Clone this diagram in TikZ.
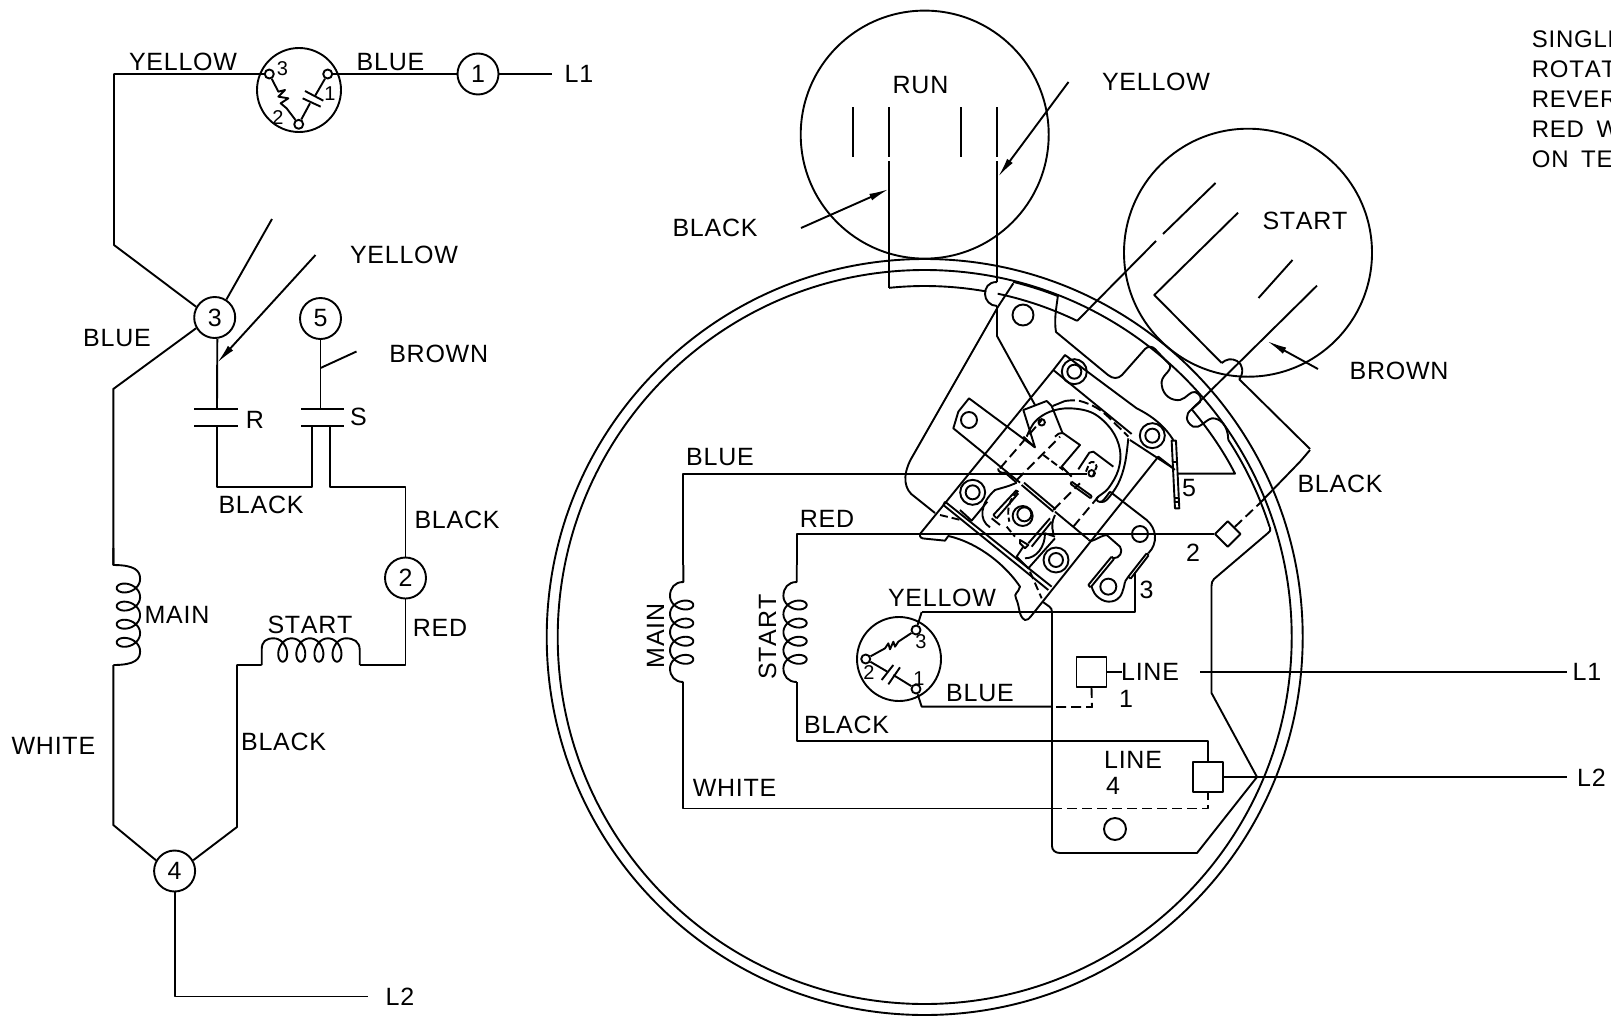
\documentclass[tikz,border=0pt]{standalone}
\usepackage{fontspec}
\setmainfont[LetterSpace=3,Kerning=Off,WordSpace=1.7]{Liberation Sans}
\usetikzlibrary{arrows.meta,shapes.geometric}
\tikzset{
  lbl/.style={font=\fontsize{25}{25}\selectfont,inner sep=0pt},
  notetext/.style={font=\fontsize{24}{24}\selectfont,inner sep=0pt,anchor=west},
  sml/.style={font=\fontsize{20}{20}\selectfont,inner sep=0pt},
  term/.style={circle,draw,minimum size=41pt,inner sep=0pt,font=\fontsize{25}{25}\selectfont},
  disc/.style={circle,draw,minimum size=84pt,inner sep=0pt},
  pin/.style={circle,draw,minimum size=9pt,inner sep=0pt},
  hole/.style={circle,draw,inner sep=0pt},
  boxn/.style={rectangle,draw,minimum size=30pt,inner sep=0pt},
  dsh/.style={dash pattern=on 10pt off 5pt},
  ptr/.style={-{Latex[length=20pt,width=7pt]}}
}
% vertical coil: wire x, tip x, signed height, first leaf y
\newcommand{\vcoil}[4]{%
  \draw (#1,#4-40) -- (#1,#4-23) .. controls (#2+#3*0.8,#4-23) and (#2+#3,#4-17) .. (#2+#3,#4-9)
    -- plot[variable=\t,domain=-180:1260,samples=120] ({#2+#3*(1-cos(\t))/2},{#4+0.0503*\t-8.5*sin(\t)})
    .. controls (#2+#3,#4+71) and (#2+#3*0.8,#4+77) .. (#1,#4+77);}
% horizontal coil: first leaf x, tip y
\newcommand{\hcoil}[2]{%
  \draw (#1-21,#2+3.3) -- (#1-21,#2-12) .. controls (#1-21,#2-20) and (#1-17,#2-23.4) .. (#1-9,#2-23.4)
    -- plot[variable=\t,domain=-180:1260,samples=120] ({#1+0.0503*\t-8.5*sin(\t)},{#2-23.4*(1-cos(\t))/2})
    .. controls (#1+71,#2-23.4) and (#1+77,#2-20) .. (#1+77,#2-12) -- (#1+77,#2+3.3);}
% arc about the motor centre, visual angles
\newcommand{\ringarc}[3]{\draw plot[variable=\t,domain=#2:#3,samples=80] ({924.7+#1*cos(\t)},{637-#1*sin(\t)});}
\begin{document}
\begin{tikzpicture}[x=1pt,y=-1pt,line width=1.9pt,line join=round]
\useasboundingbox (0,0) rectangle (1611,1015);
% ===== left schematic =====
\node[term] (n1) at (478,74) {1};
\node[term] (n2) at (405.5,578) {2};
\node[term] (n3) at (214.7,317.5) {3};
\node[term] (n4) at (174.6,871) {4};
\node[term] (n5) at (320.5,318.5) {5};
\node[disc] (tl) at (299,90) {};
\node[pin] (tl3) at (269.3,74) {};
\node[pin] (tl1) at (327.7,74) {};
\node[pin] (tl2) at (298.7,124.3) {};
\begin{scope}[shift={(220,30)},x=0.3333pt,y=-0.3333pt]
  \draw (tl3) -- (175,185) -- (195,180) -- (175,200) -- (205,205) -- (182,220) -- (200,235) -- (tl2);
  \draw (tl1) -- (285,198);
  \draw (255,183) -- (310,212);
  \draw (248,205) -- (302,230);
  \draw (270,220) -- (tl2);
\end{scope}
\node[sml] (tl3t) at (282.5,69) {3};
\node[sml] (tl1t) at (330,94) {1};
\node[sml] (tl2t) at (278,118) {2};
\draw (tl1) -- (n1);
\draw (n1) -- (552,74);
\draw (tl3) -- (114,74) -- (114,245) -- (n3.150);
\draw (n3.57) -- (272,219);
\coordinate (ya) at (315.5,255);
\coordinate (yb) at (217,363);
\draw[ptr] (ya) -- (yb);
\draw (n3.-83) -- (217,409);
\draw (194,409) -- (238,409);
\draw (194,426) -- (238,426);
\draw (217,426) -- (217,487) -- (312,487) -- (312,426);
\draw (n5) -- (320.5,409);
\draw (320.5,368) -- (356.5,351.5);
\draw (301,409) -- (344,409);
\draw (301,426) -- (344,426);
\draw (330,426) -- (330,487) -- (405.5,487) -- (n2);
\draw (n3.210) -- (113.3,389) -- (113.3,565);
\vcoil{113.3}{116.7}{23.4}{588}
\draw (113.3,665) -- (113.3,825) -- (n4.150);
\hcoil{282.7}{661.7}
\draw (261.7,665) -- (237,665) -- (237,827) -- (n4.30);
\draw (359.7,665) -- (405.5,665) -- (n2);
\draw (n4) -- (174.6,996.5) -- (368,996.5);
\node[lbl] (a1) at (183,62) {YELLOW};
\node[lbl] (a2) at (390.5,62) {BLUE};
\node[lbl] (a3) at (579,74) {L1};
\node[lbl] (a4) at (404,255) {YELLOW};
\node[lbl] (a5) at (117,338) {BLUE};
\node[lbl] (a6) at (438.7,353.5) {BROWN};
\node[lbl] (a7) at (255,420) {R};
\node[lbl] (a8) at (358.5,417) {S};
\node[lbl] (a9) at (261,504.5) {BLACK};
\node[lbl] (a10) at (457,520) {BLACK};
\node[lbl] (a11) at (177,615) {MAIN};
\node[lbl] (a12) at (310,625) {START};
\node[lbl] (a13) at (440,628) {RED};
\node[lbl] (a14) at (53.4,746) {WHITE};
\node[lbl] (a15) at (283.6,742) {BLACK};
\node[lbl] (a16) at (400,996.5) {L2};
% ===== note, clipped by the page =====
\node[notetext] (b1) at (1531,39) {SINGLE};
\node[notetext] (b2) at (1531,69) {ROTAT};
\node[notetext] (b3) at (1531,99.6) {REVER};
\node[notetext] (b4) at (1531,129.5) {RED W};
\node[notetext] (b5) at (1531,159) {ON TE};
% ===== motor end view =====
\draw (924.7,637) circle[radius=378];
\draw (924.7,637) circle[radius=367];
\draw (924.7,134.6) circle[radius=124];
\draw (1248,252.7) circle[radius=124];
% run leads
\draw (853,107) -- (853,157);
\draw (889,107) -- (889,157);
\draw (889,161) -- (889,288);
\draw (960.6,107) -- (960.6,157);
\draw (997,107) -- (997,157);
\draw (997,161) -- (997,282);
\ringarc{351}{95.84}{79.9}
\ringarc{351}{78}{64.3}
\coordinate (ra) at (1068.5,82);
\coordinate (rb) at (998,177);
\draw[ptr] (ra) -- (rb);
\coordinate (rc) at (801,228);
\coordinate (rd) at (889,189);
\draw[ptr] (rc) -- (rd);
% start leads
\draw (1077,321) -- (1156,241);
\draw (1163,234) -- (1215.5,183);
\draw (1238,212.7) -- (1154.3,295) -- (1221.7,363);
\draw (1221.7,363) .. controls (1226,359) and (1232,358) .. (1237,361) .. controls (1243,364) and (1244,373) .. (1239.3,379.3) -- (1310,449);
\draw (1258.5,298) -- (1292.5,260);
\draw (1317,285.6) -- (1191.7,409.3);
\coordinate (sa) at (1318,369);
\coordinate (sb) at (1267,341);
\draw[ptr] (sa) -- (sb);
% plate outline
\draw (997,282) .. controls (988,282) and (985,288) .. (985,294) .. controls (985,300) and (990,306) .. (997,306);
\draw (997,306) -- (997,336) -- (1035,405);
\draw (1013.3,283.3) -- (998,306.7) -- (911,459) .. controls (902,476) and (904,490) .. (915,497) -- (935,513);
\ringarc{366}{76}{68.7}
\draw (1058,295) .. controls (1056,310) and (1054,320) .. (1056,332) -- (1108,375) .. controls (1113,379) and (1118,379) .. (1122,375) -- (1145,349) .. controls (1148,346) and (1152,346) .. (1155,349) -- (1170,365)
  .. controls (1172,372) and (1160,375) .. (1161.7,385) .. controls (1163,396) and (1172,401) .. (1180,400) .. controls (1187,398) and (1190,391) .. (1195,392) .. controls (1200,394) and (1202,398) .. (1200,402) -- (1191.7,409.3)
  .. controls (1185,414) and (1185,422) .. (1193.3,426.7) .. controls (1200,429) and (1205,420) .. (1212,418.3) .. controls (1220,418) and (1228,425) .. (1228.3,440);
\ringarc{362}{33}{17.7}
\draw (1270,527) .. controls (1271,530) and (1270,532) .. (1268,533) -- (1214,579) .. controls (1212,581) and (1211.5,583) .. (1211.5,586) -- (1211.5,693) -- (1257,777) -- (1197,853) -- (1060,853) .. controls (1055,853) and (1052,850) .. (1052,846) -- (1052,612) .. controls (1052,607) and (1048,606) .. (1043,602);
\draw (1191.7,409.3) .. controls (1205,425) and (1222,448) .. (1235,473.6) -- (1178,473.6);
\draw (1086.5,473.6) -- (683.3,473.6) -- (683.3,565);
\vcoil{683.3}{693.3}{-23.3}{605}
\draw (683.3,682) -- (683.3,808.5) -- (1052,808.5);
\draw[dsh] (1052,808.5) -- (1208,808.5) -- (1208,792);
\node[boxn] (bx4) at (1208,777) {};
\draw (bx4.north) -- (1208,741) -- (796.7,741) -- (796.7,682);
\vcoil{796.7}{806.7}{-23.3}{605}
\node[rectangle,draw,rotate=45,minimum size=18pt,inner sep=0pt] (dia) at (1227.7,534) {};
\draw (796.7,565) -- (796.7,534) -- (dia.north west);
\draw[dsh] (dia.east) -- (1260,503);
\draw (1260,503) -- (1300,461.7) -- (1310,450);
\node[boxn] (bx1) at (1091.5,672) {};
\draw (bx1.east) -- (1122,672);
\coordinate (l1) at (1567,672);
\draw (1200,672) -- (l1);
\coordinate (l2) at (1567,777);
\draw (bx4.east) -- (l2);
\draw[dsh] (bx1.south) -- (1092,707) -- (1052,707);
\node[disc] (tr) at (899,659) {};
\node[pin] (tr3) at (916,630) {};
\node[pin] (tr2) at (865.7,659) {};
\node[pin] (tr1) at (916,689) {};
\begin{scope}[shift={(830,590)},x=0.3333pt,y=-0.3333pt]
  \draw (tr2) -- (165,175) -- (175,160) -- (180,178) -- (190,155) -- (195,170) -- (205,155) -- (tr3);
  \draw (tr2) -- (172,245);
  \draw (155,270) -- (190,225);
  \draw (175,283) -- (210,232);
  \draw (190,255) -- (tr1);
  \draw (tr1) -- (275,350) -- (665,350);
\end{scope}
\node[sml] (tr3t) at (921,642) {3};
\node[sml] (tr2t) at (869,673) {2};
\node[sml] (tr1t) at (919,679) {1};
% terminal block, in the units of a 3x crop
\begin{scope}[shift={(880,330)},x=0.3333pt,y=-0.3333pt]
  \node[hole,minimum size=16pt] (h1) at (267,270) {};
  \node[hole,minimum size=25pt] (t1) at (583,125) {};
  \node[hole,minimum size=14pt] (t1i) at (583,125) {};
  \node[hole,minimum size=25pt] (t2) at (817,317) {};
  \node[hole,minimum size=14pt] (t2i) at (817,317) {};
  \node[hole,minimum size=25pt] (t3) at (278,487) {};
  \node[hole,minimum size=14pt] (t3i) at (278,487) {};
  \node[hole,minimum size=25pt] (t4) at (528,690) {};
  \node[hole,minimum size=14pt] (t4i) at (528,690) {};
  \node[hole,minimum size=16pt] (h2) at (780,612) {};
  \node[hole,minimum size=16pt] (h3) at (685,770) {};
  \node[hole,minimum size=6.5pt] (h4) at (485,277) {};
  \node[hole,minimum size=6.5pt] (h5) at (635,430) {};
  \node[hole,minimum size=20pt] (c1) at (428,558) {};
  \node[hole,minimum size=14pt] (c2) at (433,553) {};
  % tab
  \draw (420,458) -- (220,295) -- (235,245) -- (267,205) -- (465,352);
  % mounting plate
  \draw (120,612) -- (520,120) -- (555,75) -- (770,235) .. controls (820,260) and (855,290) .. (880,330);
  \draw (520,120) -- (755,312);
  \draw (750,330) -- (880,415);
  \draw (120,612) .. controls (118,622) and (125,626) .. (135,626) -- (195,632) -- (205,618) .. controls (300,640) and (380,710) .. (420,770) .. controls (415,790) and (400,790) .. (408,805) .. controls (420,830) and (415,860) .. (435,870) .. controls (442,872) and (448,865) .. (452,860) -- (835,380) -- (880,415);
  \draw (195,515) -- (515,770);
  \draw (190,525) -- (505,780);
  \draw (195,515) -- (190,525);
  \draw[dash pattern=on 8pt off 4pt] (180,555) -- (250,572);
  \draw[dash pattern=on 8pt off 4pt] (450,725) -- (485,805);
  % left block
  \draw (240,540) -- (275,572) -- (322,515);
  \draw (410,458) .. controls (385,470) and (360,475) .. (345,480) .. controls (300,520) and (295,570) .. (330,592);
  \draw (375,428) -- (410,458);
  \draw (355,415) .. controls (352,425) and (365,430) .. (375,428);
  % centre body
  \draw (425,465) -- (520,545);
  \draw (432,458) -- (527,538);
  \draw (525,545) -- (625,628);
  \draw (340,555) -- (410,480);
  \draw (350,565) -- (415,490);
  \draw (340,555) -- (350,565);
  \draw (335,565) -- (360,585);
  \draw[dash pattern=on 7pt off 3pt] (380,590) -- (405,620);
  \draw[dash pattern=on 7pt off 3pt] (415,482) .. controls (385,510) and (380,540) .. (388,575);
  \draw (445,640) -- (510,565);
  \draw (455,650) -- (515,575);
  \draw (420,630) -- (445,645) -- (435,655) -- (420,640) -- cycle;
  \draw (430,650) -- (410,680) -- (445,715) -- (525,625);
  \draw (435,685) .. controls (470,685) and (495,650) .. (495,610) -- (525,620);
  \draw (525,555) .. controls (515,575) and (515,590) .. (520,610);
  % dashed contacts
  \draw[dsh] (360,415) -- (485,270);
  \draw[dsh] (410,450) -- (540,320);
  \draw[dsh] (520,540) -- (600,460);
  \draw[dsh] (580,590) -- (655,500);
  \draw[dash pattern=on 7pt off 3pt] (490,375) -- (550,420);
  % head and inner piece
  \draw (430,240) -- (500,213) -- (515,228) -- (548,310);
  \draw (430,240) -- (465,352) -- (430,320);
  \draw (525,320) .. controls (530,312) and (540,308) .. (550,310) -- (600,345) -- (545,410) -- (575,440);
  \draw (595,418) -- (628,368) -- (640,365) -- (700,410);
  \draw[dash pattern=on 6pt off 2.5pt] (618,425) -- (628,400) .. controls (635,392) and (648,395) .. (650,410) -- (638,440);
  \draw (575,455) -- (635,498);
  \draw (572,462) -- (632,505);
  \draw (575,455) -- (572,462);
  \draw (635,498) -- (632,505);
  % U shaped clip
  \draw plot[smooth,tension=.6] coordinates {(440,320) (465,275) (510,245) (570,235) (640,250) (695,300) (720,360) (715,420) (685,475) (650,505) (665,515) (690,485)};
  \draw plot[smooth,tension=.6] coordinates {(518,228) (555,213)};
  \draw[dash pattern=on 10pt off 4pt] plot[smooth,tension=.6] coordinates {(555,213) (600,213) (660,240) (720,295) (745,320)};
  \draw plot[smooth,tension=.6] coordinates {(745,325) (735,400) (715,460) (680,510) (660,515)};
  % lower right tab
  \draw (690,485) -- (800,570) .. controls (830,595) and (835,640) .. (805,670);
  \draw (625,630) .. controls (640,640) and (650,620) .. (680,615) -- (720,650) .. controls (730,665) and (720,685) .. (700,685);
  \draw (625,765) -- (695,680);
  \draw (632,772) -- (702,687);
  \draw (625,765) -- (632,772);
  \draw (695,680) -- (702,687);
  \draw plot[smooth,tension=.7] coordinates {(635,770) (650,798) (685,815) (720,800) (735,755)};
  \draw (735,755) -- (745,740);
  \draw (745,740) -- (800,670);
  \draw (752,746) -- (806,676);
  \draw (745,740) -- (752,746);
  \draw (800,670) -- (806,676);
  % yellow wire
  \draw (765,725) -- (765,845) -- (125,845);
  % strip 5
  \draw (875,332) -- (888,332) -- (898,535) -- (885,535) -- cycle;
  \draw (880,395) -- (892,395);
  \draw (884,505) -- (896,505);
  \draw (885,515) -- (897,515);
  \draw (880,415) -- (884,420);
\end{scope}
\draw (tr3) -- (921.7,612);
\node[hole,minimum size=21pt] (h6) at (1023,315) {};
\node[hole,minimum size=22pt] (h7) at (1115,829) {};
% labels
\node[lbl] (c1t) at (920.5,85) {RUN};
\node[lbl] (c2t) at (1156,82) {YELLOW};
\node[lbl] (c3t) at (715,228) {BLACK};
\node[lbl] (c4t) at (1305,221) {START};
\node[lbl] (c5t) at (1399,371) {BROWN};
\node[lbl] (c6t) at (1340,484) {BLACK};
\node[lbl] (c7t) at (720,457) {BLUE};
\node[lbl] (c8t) at (827,519) {RED};
\node[lbl] (c9t) at (1189,488) {5};
\node[lbl] (c10t) at (1193,553) {2};
\node[lbl] (c11t) at (1146.6,590) {3};
\node[lbl] (c12t) at (942,598) {YELLOW};
\node[lbl,rotate=90] (c13t) at (655.5,636) {MAIN};
\node[lbl,rotate=90] (c14t) at (767.5,637) {START};
\node[lbl] (c15t) at (980,693.5) {BLUE};
\node[lbl] (c16t) at (846.6,725) {BLACK};
\node[lbl] (c17t) at (1150,672) {LINE};
\node[lbl] (c18t) at (1126,699) {1};
\node[lbl] (c19t) at (1133,760) {LINE};
\node[lbl] (c20t) at (1113,786) {4};
\node[lbl] (c21t) at (734.6,788) {WHITE};
\node[lbl] (c22t) at (1587,672) {L1};
\node[lbl] (c23t) at (1591.5,778) {L2};
\end{tikzpicture}
\end{document}
